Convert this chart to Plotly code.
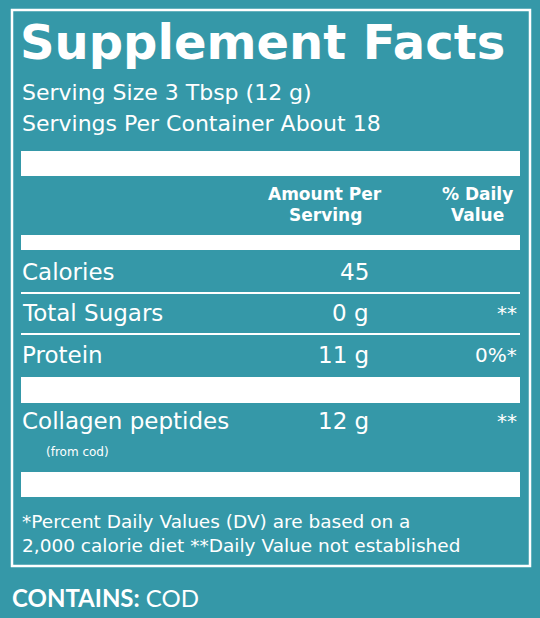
import plotly.graph_objects as go

# label content
nutrients = ["Calories", "Total Sugars", "Protein", "Collagen peptides"]
amounts = ["45", "0 g", "11 g", "12 g"]
daily_values = ["", "**", "0%*", "**"]
row_y = [272, 313, 355, 421]
serving_lines = ["Serving Size 3 Tbsp (12 g)", "Servings Per Container About 18"]
footnotes = ["*Percent Daily Values (DV) are based on a",
             "2,000 calorie diet **Daily Value not established"]

BG = "#3598a8"
W = "white"
font = "DejaVu Sans, Arial, sans-serif"

fig = go.Figure()
fig.add_trace(go.Scatter(x=[0, 540], y=[0, 618], mode="markers", marker=dict(opacity=0), hoverinfo="skip"))

shapes = [dict(type="rect", x0=12, x1=530, y0=10, y1=566, line=dict(color=W, width=2.5))]
for y0, y1 in [(151, 176), (235, 250), (377, 403), (472, 497)]:
    shapes.append(dict(type="rect", x0=21, x1=520, y0=y0, y1=y1, fillcolor=W, line=dict(width=0)))
for y in [293, 334]:
    shapes.append(dict(type="line", x0=21, x1=520, y0=y, y1=y, line=dict(color=W, width=2)))

ann = []
def t(x, y, s, size, anchor="left", bold=False, fam=font):
    ann.append(dict(x=x, y=y, text=f"<b>{s}</b>" if bold else s, showarrow=False, xanchor=anchor,
                    yanchor="middle", font=dict(family=fam, size=size, color=W)))

t(18, 42, "Supplement Facts", 48, bold=True)
t(20, 92, serving_lines[0], 22)
t(20, 123, serving_lines[1], 22)
t(325, 194, "Amount Per", 17, "center", True)
t(325, 215, "Serving", 17, "center", True)
t(477, 194, "% Daily", 17, "center", True)
t(477, 215, "Value", 17, "center", True)
for n, a, d, y in zip(nutrients, amounts, daily_values, row_y):
    t(20, y, n, 23)
    t(371, y, a, 23, "right")
    if d:
        t(519, y, d, 20, "right")
t(44, 452, "(from cod)", 12)
t(20, 521, footnotes[0], 18.5)
t(20, 545, footnotes[1], 18.5)
t(10, 597, "<b>CONTAINS:</b> COD", 24, fam="Lato, Open Sans, sans-serif")

fig.update_layout(width=540, height=618, margin=dict(l=0, r=0, t=0, b=0),
                  paper_bgcolor=BG, plot_bgcolor=BG, showlegend=False,
                  shapes=shapes, annotations=ann,
                  xaxis=dict(range=[0, 540], visible=False, fixedrange=True),
                  yaxis=dict(range=[618, 0], visible=False, fixedrange=True))
fig.write_html("out.html", config={"displayModeBar": False},
               post_script="document.body.style.margin='0';document.body.style.background='%s';" % BG)
